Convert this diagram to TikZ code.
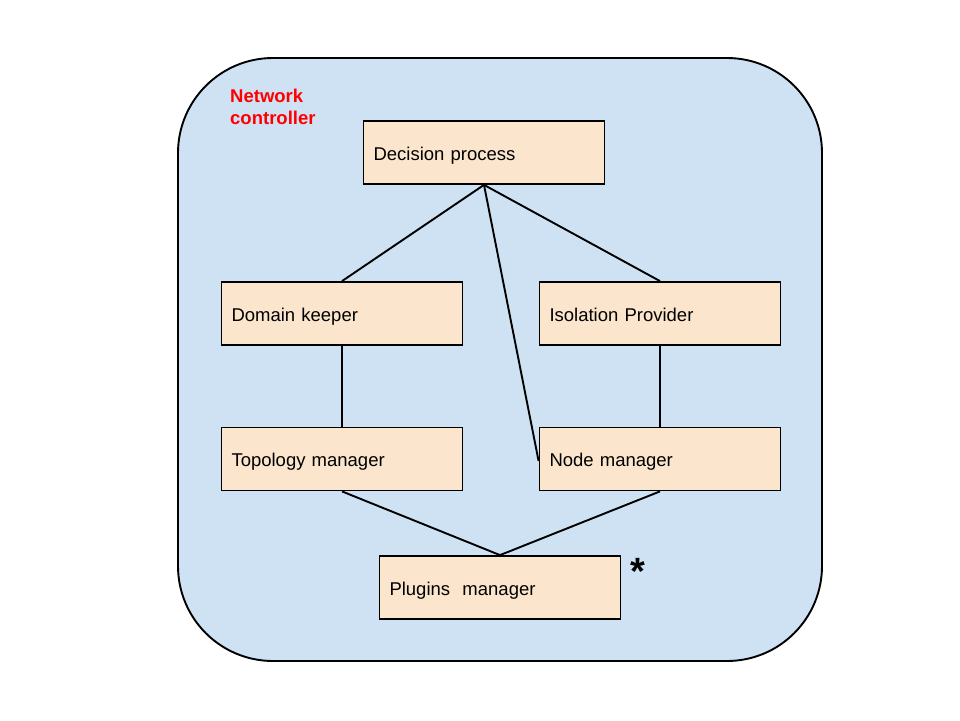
\documentclass[tikz,border=0pt]{standalone}
\usepackage{fontspec}
\setmainfont{Liberation Sans}
\definecolor{bgblue}{HTML}{CFE2F3}
\definecolor{boxfill}{HTML}{FCE5CD}
\begin{document}
\begin{tikzpicture}[x=1pt,y=-1pt,
  comp/.style={draw=black,line width=1.8pt,fill=boxfill,rectangle,
    minimum height=63pt,text width=221pt,inner xsep=10pt,inner ysep=0pt,
    text height=15pt,text depth=0pt,
    align=left,font=\fontsize{18.5}{22}\selectfont},
  link/.style={draw=black,line width=1.9pt}]
\useasboundingbox (0,0) rectangle (960,720);
\fill[white] (0,0) rectangle (960,720);
\node[draw=black,line width=1.9pt,fill=bgblue,rounded corners=95pt,
  minimum width=644pt,minimum height=603pt,inner sep=0pt] (ctrl) at (500,359.5) {};
\node[anchor=north west,inner sep=0pt,text=red,align=left,
  font=\fontsize{18.5}{22}\selectfont\bfseries] (lbl) at (230,89) {Network\\controller};
\node[comp] (dec) at (484,152.5) {Decision process};
\node[comp] (dom) at (342,313.5) {Domain keeper};
\node[comp] (iso) at (660,313.5) {Isolation Provider};
\node[comp] (top) at (342,459) {Topology manager};
\node[comp] (nod) at (660,459) {Node manager};
\node[comp] (plg) at (500,587.5) {Plugins~~manager};
\node[inner sep=0pt,font=\fontsize{38}{38}\selectfont\bfseries] (ast) at (638,571) {*};
\draw[link] (dec.south) -- (dom.north);
\draw[link] (dec.south) -- (iso.north);
\draw[link] (dec.south) -- ([yshift=-2pt]nod.west);
\draw[link] (dom.south) -- (top.north);
\draw[link] (iso.south) -- (nod.north);
\draw[link] (top.south) -- (plg.north);
\draw[link] (nod.south) -- (plg.north);
\end{tikzpicture}
\end{document}
